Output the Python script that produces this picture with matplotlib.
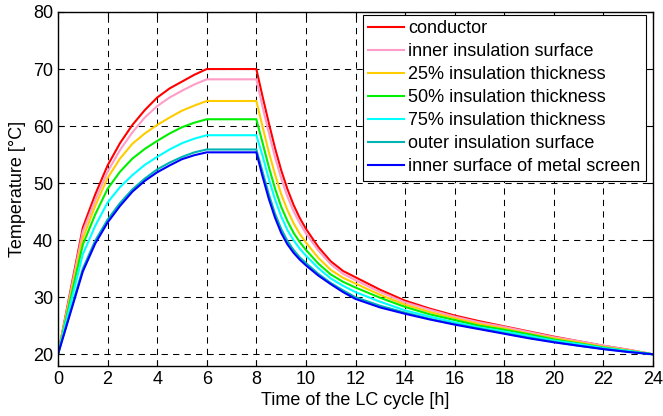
import matplotlib
matplotlib.use("Agg")
import matplotlib.pyplot as plt

# time of the LC cycle [h]
t = [0, 1, 1.5, 2, 2.5, 3, 3.5, 4, 4.5, 5, 5.5, 6,
     8, 8.25, 8.5, 8.75, 9, 9.25, 9.5, 9.75, 10, 10.5, 11, 11.5,
     12, 13, 14, 15, 16, 17, 18, 19, 20, 21, 22, 23, 24]

# temperatures [degC]
conductor = [20, 42.2, 48.0, 53.1, 57.0, 60.2, 62.8, 65.0, 66.6, 67.8, 69.0, 70,
             70, 65.2, 60.6, 56.2, 52.3, 49.0, 46.2, 43.9, 42.0, 38.8, 36.3, 34.6,
             33.5, 31.3, 29.4, 28.0, 26.8, 25.8, 24.9, 24.0, 23.1, 22.3, 21.5, 20.8, 20]
inner_ins = [20, 41.5, 47.0, 52.0, 55.8, 58.9, 61.5, 63.5, 65.0, 66.2, 67.3, 68.2,
             68.2, 63.4, 58.9, 54.6, 50.9, 47.7, 45.1, 43.0, 41.2, 38.2, 35.8, 34.1,
             33.0, 30.9, 29.1, 27.8, 26.6, 25.6, 24.8, 23.9, 23.0, 22.3, 21.5, 20.8, 20]
ins_25 = [20, 40.3, 46.0, 50.9, 54.3, 56.9, 58.7, 60.2, 61.5, 62.7, 63.6, 64.4,
          64.4, 59.9, 55.5, 51.6, 48.1, 45.3, 43.0, 41.1, 39.6, 36.9, 34.8, 33.4,
          32.4, 30.4, 28.7, 27.4, 26.3, 25.3, 24.5, 23.6, 22.8, 22.1, 21.3, 20.7, 20]
ins_50 = [20, 39.2, 44.5, 49.0, 52.0, 54.3, 56.0, 57.4, 58.7, 59.8, 60.6, 61.2,
          61.2, 57.1, 52.9, 49.1, 45.9, 43.4, 41.3, 39.7, 38.3, 35.9, 34.0, 32.7,
          31.7, 29.9, 28.3, 27.0, 26.0, 25.0, 24.3, 23.5, 22.6, 21.9, 21.2, 20.6, 20]
ins_75 = [20, 37.5, 42.5, 46.6, 49.3, 51.4, 53.2, 54.6, 55.9, 57.0, 57.8, 58.4,
          58.4, 54.8, 50.8, 47.2, 44.2, 41.8, 40.0, 38.5, 37.3, 35.1, 33.3, 32.0,
          30.9, 29.2, 27.7, 26.6, 25.6, 24.7, 24.0, 23.2, 22.4, 21.8, 21.1, 20.6, 20]
outer_ins = [20, 35.0, 39.9, 43.6, 46.5, 48.9, 50.8, 52.4, 53.6, 54.6, 55.4, 55.9,
             55.9, 52.0, 48.1, 44.7, 42.0, 39.9, 38.3, 37.0, 36.0, 34.1, 32.5, 31.2,
             30.0, 28.5, 27.3, 26.2, 25.3, 24.5, 23.7, 22.9, 22.2, 21.5, 20.95, 20.45, 20]
screen = [20, 34.5, 39.4, 43.1, 46.0, 48.5, 50.4, 51.9, 53.1, 54.2, 54.9, 55.4,
          55.4, 51.2, 47.3, 44.0, 41.3, 39.3, 37.8, 36.6, 35.6, 33.8, 32.3, 30.9,
          29.7, 28.2, 27.1, 26.1, 25.2, 24.4, 23.6, 22.8, 22.1, 21.5, 20.9, 20.4, 20]

series = [
    (conductor, 'conductor', '#FF0000'),
    (inner_ins, 'inner insulation surface', '#FF9CC8'),
    (ins_25, '25% insulation thickness', '#FFCC00'),
    (ins_50, '50% insulation thickness', '#00EE00'),
    (ins_75, '75% insulation thickness', '#00FFFF'),
    (outer_ins, 'outer insulation surface', '#00B4B4'),
    (screen, 'inner surface of metal screen', '#0000FF'),
]

plt.rcParams['font.family'] = ['Liberation Sans', 'DejaVu Sans']

fig = plt.figure(figsize=(6.63, 4.16), dpi=100)
ax = fig.add_axes([58 / 663, 1 - 365.7 / 416, 595 / 663, 353.7 / 416])

for vals, lab, col in series:
    ax.plot(t, vals, color=col, lw=1.5, label=lab)

ax.set_xlim(0, 24)
ax.set_ylim(18, 80)
ax.set_xticks(range(0, 25, 2))
ax.set_yticks(range(20, 81, 10))
ax.grid(True, color='k', linestyle=(0, (6, 5)), lw=0.75)
ax.tick_params(direction='in', top=True, right=True, length=4, labelsize=13, width=0.8)
for s in ax.spines.values():
    s.set_linewidth(1.0)

ax.set_xlabel("Time of the LC cycle [h]", fontsize=13, labelpad=3)
ax.set_ylabel("Temperature [\u00b0C]", fontsize=13, labelpad=5)

leg = ax.legend(loc='upper right', bbox_to_anchor=(0.9877, 0.9915), borderaxespad=0,
                fontsize=13, handlelength=2.0, handletextpad=0.2, labelspacing=0.33,
                borderpad=0.3, fancybox=False, framealpha=1, edgecolor='k')
leg.get_frame().set_linewidth(0.8)

fig.savefig("out.png", dpi=100)
